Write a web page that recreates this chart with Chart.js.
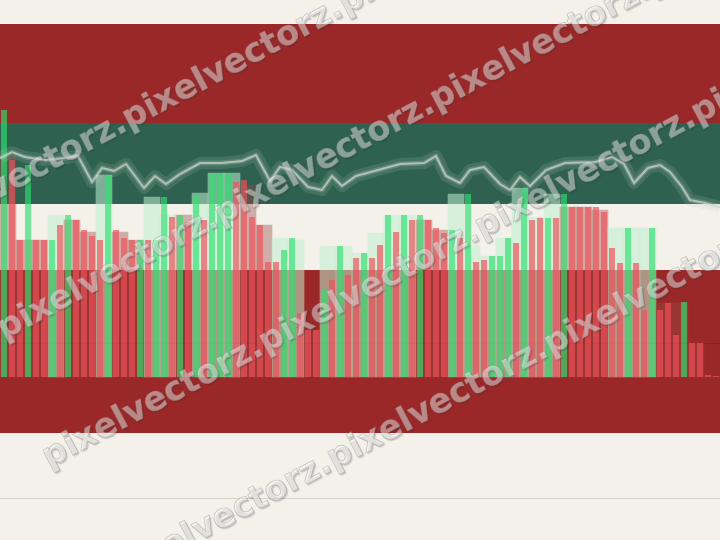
<!DOCTYPE html>
<html><head><meta charset="utf-8">
<script src="https://cdn.jsdelivr.net/npm/chart.js@4.4.1/dist/chart.umd.min.js"></script>
<style>html,body{margin:0;padding:0;background:#f4f0ea;overflow:hidden}canvas{display:block}</style>
</head><body>
<canvas id="c" width="720" height="540"></canvas>
<script>
// ---- data ----
const sessionLabels = Array.from({length: 90}, (_, i) => 'S' + (i + 1));
const sessionVolume = [267,217,137,212,137,137,137,152,162,157,147,141,137,202,147,139,137,137,137,137,
  180,160,162,155,182,157,204,204,204,195,197,160,152,115,115,127,139,64,47,47,
  87,97,131,102,119,124,119,132,162,145,162,157,162,157,149,144,147,139,183,115,
  117,121,121,139,134,189,157,159,159,159,183,170,170,170,170,165,129,114,149,114,
  67,149,67,74,42,75,34,34,2,1];
const sessionDirection = ['G','R','R','G','R','R','G','R','G','R','R','R','R','G','R','R','R','G','R','G',
  'G','R','G','R','G','R','G','G','G','R','R','R','R','R','R','G','G','R','R','R',
  'G','R','G','R','R','G','R','R','G','R','G','R','G','R','R','R','G','R','G','R',
  'R','G','G','G','R','G','R','R','G','R','G','R','R','R','R','R','R','R','G','R',
  'R','G','R','R','R','G','R','R','R','R'];

const blockLabels = Array.from({length: 45}, (_, i) => 'B' + (i + 1));
const blockVolume = [222,137,137,162,157,145,202,145,137,180,162,162,184,204,204,192,152,139,137,47,
  131,131,124,144,162,162,157,147,183,132,121,139,189,160,183,170,170,167,149,149,
  149,74,74,34,1];
const blockDirection = ['R','R','R','G','R','R','G','R','R','G','G','R','G','G','G','R','R','G','G','R',
  'G','G','G','G','G','G','R','R','G','G','G','G','G','G','G','R','R','R','G','G',
  'G','R','R','R','R'];

const priceTime = [0,12,25,45,65,78,92,102,114,126,144,155,166,180,200,222,242,256,270,280,
  292,308,322,332,342,356,378,400,424,436,446,460,470,484,500,510,520,530,546,565,
  595,612,624,634,648,660,670,682,690,705,720];
const priceValue = [219,225,220,217,219,221,195,209,206,213,189,201,193,203,214,214,216,222,196,210,
  207,190,187,201,191,201,207,213,214,221,201,194,207,210,193,187,200,191,207,214,
  215,220,213,194,209,212,205,190,177,174,170];

const bandTop    = [377, 353, 254, 173, 107, -56];
const bandBottom = [353, 254, 173, 107, -56, -163];
const bandColor  = ['#f4f0ea', '#9b2828', '#2e6150', '#f4f0ea', '#9b2828', '#f4f0ea'];
const ruleValue  = [-121, 34];
const ruleColor  = ['#d6d2cc', 'rgba(90,20,20,0.35)'];

const watermarkText = 'pixelvectorz.';
const watermarkRowIntercept = [188, 332, 484, 637];
const watermarkRowStart = [125, 0, 45, 330];
const watermarkRowFirst = [-2, 0, 0, -2];
const watermarkSlope = -0.53;

// ---- styling ----
const upColor = 'rgba(45,225,110,0.66)';
const downColor = 'rgba(240,80,90,0.68)';
const ghostUp = 'rgba(190,240,205,0.55)';
const ghostDown = 'rgba(150,75,65,0.40)';

const bandsPlugin = {
  id: 'bands',
  beforeDraw(chart) {
    const {ctx, width} = chart;
    const y = chart.scales.y;
    ctx.save();
    bandTop.forEach((t, i) => {
      const p1 = y.getPixelForValue(t), p2 = y.getPixelForValue(bandBottom[i]);
      ctx.fillStyle = bandColor[i];
      ctx.fillRect(0, p1, width, p2 - p1);
    });
    ruleValue.forEach((v, i) => {
      const p = Math.round(y.getPixelForValue(v)) + 0.5;
      ctx.strokeStyle = ruleColor[i];
      ctx.lineWidth = 1;
      ctx.beginPath(); ctx.moveTo(0, p); ctx.lineTo(width, p); ctx.stroke();
    });
    ctx.restore();
  }
};

const watermarkPlugin = {
  id: 'watermark',
  afterDraw(chart) {
    const ctx = chart.ctx;
    ctx.save();
    ctx.font = 'bold 30px "DejaVu Sans"';
    let w = ctx.measureText(watermarkText).width;
    const size = 30 * 245 / w;
    ctx.font = 'bold ' + size.toFixed(1) + 'px "DejaVu Sans"';
    w = ctx.measureText(watermarkText).width;
    const ang = Math.atan(watermarkSlope);
    ctx.textBaseline = 'middle';
    ctx.textAlign = 'left';
    watermarkRowIntercept.forEach((b, k) => {
      const x0 = watermarkRowStart[k];
      const y0 = b + watermarkSlope * x0;
      ctx.save();
      ctx.translate(x0, y0);
      ctx.rotate(ang);
      for (let n = watermarkRowFirst[k]; n <= 5; n++) {
        const s = n * w;
        ctx.shadowColor = 'rgba(40,40,40,0.45)';
        ctx.shadowOffsetX = 1.5; ctx.shadowOffsetY = 1.5; ctx.shadowBlur = 1;
        ctx.fillStyle = 'rgba(255,255,255,0.45)';
        ctx.fillText(watermarkText, s, 0);
        ctx.shadowColor = 'transparent';
        ctx.strokeStyle = 'rgba(140,140,140,0.45)';
        ctx.lineWidth = 0.8;
        ctx.strokeText(watermarkText, s, 0);
      }
      ctx.restore();
    });
    ctx.restore();
  }
};

const pricePoints = priceTime.map((t, i) => ({x: t, y: priceValue[i]}));

new Chart(document.getElementById('c'), {
  type: 'bar',
  data: {
    labels: sessionLabels,
    datasets: [
      {
        type: 'line', label: 'price glow', data: pricePoints, xAxisID: 'xl', yAxisID: 'y',
        borderColor: 'rgba(185,205,195,0.16)', borderWidth: 12, pointRadius: 0, tension: 0,
        borderJoinStyle: 'round', order: 0
      },
      {
        type: 'line', label: 'price halo', data: pricePoints, xAxisID: 'xl', yAxisID: 'y',
        borderColor: 'rgba(200,215,205,0.22)', borderWidth: 5, pointRadius: 0, tension: 0,
        borderJoinStyle: 'round', order: 0
      },
      {
        type: 'line', label: 'price', data: pricePoints, xAxisID: 'xl', yAxisID: 'y',
        borderColor: 'rgba(210,215,210,0.75)', borderWidth: 2, pointRadius: 0, tension: 0,
        order: 0
      },
      {
        label: 'volume', data: sessionVolume, xAxisID: 'x', yAxisID: 'y',
        backgroundColor: sessionDirection.map(d => d === 'G' ? upColor : downColor),
        barPercentage: 0.75, categoryPercentage: 1, grouped: false, borderWidth: 0, order: 1
      },
      {
        label: 'block volume', data: blockVolume, xAxisID: 'xg', yAxisID: 'y',
        backgroundColor: blockDirection.map(d => d === 'G' ? ghostUp : ghostDown),
        barPercentage: 1, categoryPercentage: 1, grouped: false, borderWidth: 0, order: 2
      }
    ]
  },
  options: {
    responsive: false,
    animation: false,
    devicePixelRatio: 1,
    layout: {padding: 0},
    plugins: {legend: {display: false}, tooltip: {enabled: false}},
    scales: {
      x: {type: 'category', display: false, offset: true},
      xg: {type: 'category', labels: blockLabels, display: false, offset: true},
      xl: {type: 'linear', min: 0, max: 720, display: false, offset: false},
      y: {type: 'linear', min: -163, max: 377, display: false}
    }
  },
  plugins: [bandsPlugin, watermarkPlugin]
});
</script>
</body></html>
